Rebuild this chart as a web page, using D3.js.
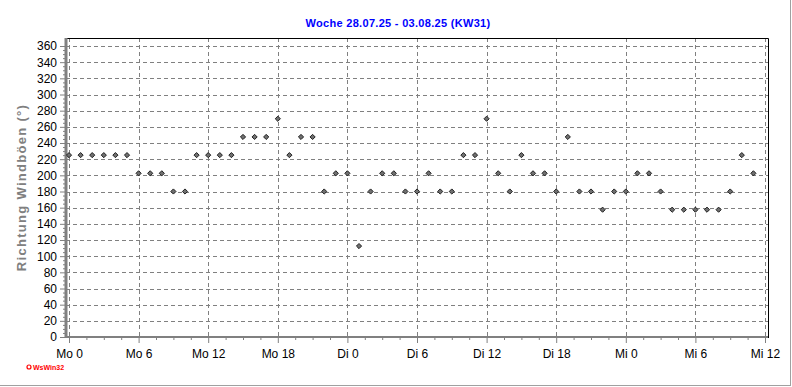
<!DOCTYPE html>
<html>
<head>
<meta charset="utf-8">
<script src="https://cdn.jsdelivr.net/npm/d3@7"></script>
<style>
  body { margin: 0; background: #fff; }
  svg { display: block; font-family: "Liberation Sans", Arial, sans-serif; }
</style>
</head>
<body>
<svg id="chart" width="792" height="387"></svg>
<script>
// hourly gust direction, Mo 0 .. Mi 11
const hours = d3.range(0, 60);
const direction = [
  225, 225, 225, 225, 225, 225, 202.5, 202.5, 202.5, 180,
  180, 225, 225, 225, 225, 247.5, 247.5, 247.5, 270, 225,
  247.5, 247.5, 180, 202.5, 202.5, 112.5, 180, 202.5, 202.5, 180,
  180, 202.5, 180, 180, 225, 225, 270, 202.5, 180, 225,
  202.5, 202.5, 180, 247.5, 180, 180, 157.5, 180, 180, 202.5,
  202.5, 180, 157.5, 157.5, 157.5, 157.5, 157.5, 180, 225, 202.5
];
const xTicks = [0, 6, 12, 18, 24, 30, 36, 42, 48, 54, 60];
const xTickLabels = ["Mo 0", "Mo 6", "Mo 12", "Mo 18", "Di 0", "Di 6", "Di 12", "Di 18", "Mi 0", "Mi 6", "Mi 12"];
const yTicks = d3.range(0, 361, 20);

const width = 792, height = 387;
const plot = { left: 66, right: 768, top: 38, bottom: 337 };

const svg = d3.select("#chart");

const x = d3.scaleLinear().domain([0, 60]).range([69, 765]);
const y = d3.scaleLinear().domain([0, 360]).range([337, 46]);

// outer panel edge
svg.append("line").attr("x1", 0).attr("x2", 790).attr("y1", 385.5).attr("y2", 385.5)
  .attr("stroke", "#a0a0a0");
svg.append("line").attr("x1", 790.5).attr("x2", 790.5).attr("y1", 0).attr("y2", 386)
  .attr("stroke", "#a0a0a0");

// title
svg.append("text")
  .attr("x", 398).attr("y", 27)
  .attr("text-anchor", "middle")
  .attr("fill", "#0000ff")
  .style("font-size", "11px").style("font-weight", "bold")
  .style("letter-spacing", "0.3px")
  .text("Woche 28.07.25 - 03.08.25 (KW31)");

// grid
const grid = svg.append("g").attr("stroke", "#808080").attr("stroke-dasharray", "4,3");
grid.selectAll(".gy").data(yTicks.filter(d => d > 0)).join("line")
  .attr("x1", plot.left).attr("x2", plot.right)
  .attr("y1", d => Math.round(y(d)) + 0.5).attr("y2", d => Math.round(y(d)) + 0.5);
grid.selectAll(".gx").data(xTicks).join("line")
  .attr("x1", d => Math.round(x(d)) + 0.5).attr("x2", d => Math.round(x(d)) + 0.5)
  .attr("y1", plot.top).attr("y2", plot.bottom);

// frame: top and right black
svg.append("path")
  .attr("d", `M${plot.left},${plot.top + 0.5}H${plot.right + 0.5}V${plot.bottom}`)
  .attr("fill", "none").attr("stroke", "#000");

// y axis
const yAxis = svg.append("g")
  .attr("transform", `translate(${plot.left},0)`)
  .call(d3.axisLeft(y).tickValues(yTicks).tickSize(6).tickPadding(3));
yAxis.select(".domain").remove();
yAxis.selectAll(".tick line").attr("stroke", "#808080");
yAxis.selectAll("text").style("font-size", "12px").attr("fill", "#000");
svg.append("g")
  .attr("transform", `translate(${plot.left},0)`)
  .call(d3.axisLeft(y).tickValues(d3.range(0, 361, 5).filter(d => d % 20)).tickSize(3).tickFormat(""))
  .call(g => g.select(".domain").remove())
  .selectAll("line").attr("stroke", "#808080");

// x axis
const xAxis = svg.append("g")
  .attr("transform", `translate(0,${plot.bottom})`)
  .call(d3.axisBottom(x).tickValues(xTicks).tickFormat((d, i) => xTickLabels[i]).tickSize(6).tickPadding(6));
xAxis.select(".domain").remove();
xAxis.selectAll(".tick line").attr("stroke", "#808080");
xAxis.selectAll("text").style("font-size", "12px").attr("fill", "#000");
svg.append("g")
  .attr("transform", `translate(0,${plot.bottom})`)
  .call(d3.axisBottom(x).tickValues(d3.range(0, 60.1, 1.5).filter(d => d % 6)).tickSize(3).tickFormat(""))
  .call(g => g.select(".domain").remove())
  .selectAll("line").attr("stroke", "#808080");

// thick gray axis lines
svg.append("line").attr("x1", plot.left).attr("x2", plot.left).attr("y1", plot.top).attr("y2", plot.bottom + 1)
  .attr("stroke", "#808080").attr("stroke-width", 3);
svg.append("line").attr("x1", plot.left - 1).attr("x2", plot.right).attr("y1", plot.bottom).attr("y2", plot.bottom)
  .attr("stroke", "#808080").attr("stroke-width", 2);
svg.append("line").attr("x1", plot.right + 0.5).attr("x2", plot.right + 0.5).attr("y1", plot.bottom - 4).attr("y2", plot.bottom + 1)
  .attr("stroke", "#000");

// y label
svg.append("text")
  .attr("transform", `translate(26,${(plot.top + plot.bottom) / 2}) rotate(-90)`)
  .attr("text-anchor", "middle")
  .attr("fill", "#808080")
  .style("font-size", "13px").style("font-weight", "bold")
  .style("letter-spacing", "1.3px")
  .text("Richtung Windböen  (°)");

// points
svg.append("g").selectAll("path").data(hours).join("path")
  .attr("transform", (d, i) => `translate(${x(d)},${y(direction[i])})`)
  .attr("d", d3.symbol(d3.symbolDiamond2, 17))
  .attr("fill", "#707070").attr("stroke", "#202020").attr("stroke-width", 1);

// logo
svg.append("circle").attr("cx", 29).attr("cy", 367).attr("r", 2)
  .attr("fill", "none").attr("stroke", "#ff0000").attr("stroke-width", 1.2);
svg.append("text").attr("x", 33).attr("y", 370)
  .attr("fill", "#ff0000")
  .style("font-size", "7px").style("font-weight", "bold")
  .text("WsWin32");
</script>
</body>
</html>
